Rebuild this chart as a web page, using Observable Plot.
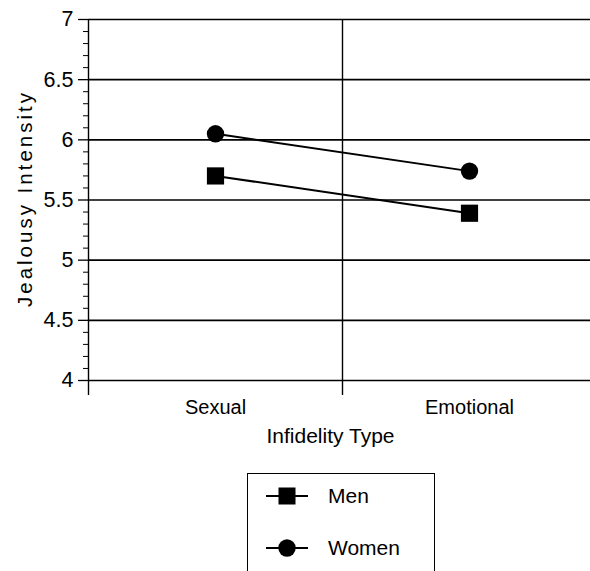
<!DOCTYPE html>
<html>
<head>
<meta charset="utf-8">
<script src="https://cdn.jsdelivr.net/npm/d3@7"></script>
<script src="https://cdn.jsdelivr.net/npm/@observablehq/plot@0.6"></script>
<style>
  html, body { margin: 0; padding: 0; background: #fff; }
  body { width: 590px; height: 571px; overflow: hidden; font-family: "Liberation Sans", Arial, sans-serif; }
  #legend { position: absolute; left: 247px; top: 473px; width: 188px; height: 110px; border: 1.5px solid #000; box-sizing: border-box; }
</style>
</head>
<body>
<div id="chart"></div>
<div id="legend"></div>
<script>
const categories = ["Sexual", "Emotional"];
const seriesNames = ["Men", "Women"];
const menValues = [5.70, 5.39];
const womenValues = [6.05, 5.74];
const yTicks = [4, 4.5, 5, 5.5, 6, 6.5, 7];
const yLabel = "Jealousy Intensity";
const xLabel = "Infidelity Type";

const data = [];
categories.forEach((c, i) => {
  data.push({series: "Men", cat: c, pos: i + 0.5, value: menValues[i]});
  data.push({series: "Women", cat: c, pos: i + 0.5, value: womenValues[i]});
});
const minorTicks = d3.range(40, 71).map(v => v / 10).filter(v => !yTicks.includes(v));
const boundaries = d3.range(0, categories.length + 1);

const plot = Plot.plot({
  width: 590,
  height: 465,
  marginLeft: 88,
  marginRight: 0,
  marginTop: 19,
  marginBottom: 85,
  style: {fontFamily: "Liberation Sans, Arial, sans-serif", fontSize: "20px", color: "#000", background: "#fff"},
  x: {type: "linear", domain: [0, categories.length], range: [88, 596]},
  y: {domain: [4, 7], range: [380, 19]},
  marks: [
    Plot.ruleY(yTicks, {stroke: "#000", strokeWidth: 1.6}),
    Plot.ruleX(boundaries, {y1: 4, y2: 7, stroke: "#000", strokeWidth: 1.4}),
    Plot.axisX(boundaries, {tickSize: 15, tickFormat: () => "", stroke: "#000", strokeWidth: 1.4, label: null}),
    Plot.axisX(categories.map((c, i) => i + 0.5), {tickSize: 0, tickPadding: 19, tickFormat: p => categories[Math.floor(p)], fontSize: 20, label: null}),
    Plot.axisY(yTicks, {tickSize: 10, tickPadding: 5, tickFormat: d => String(d), fontSize: 21.5, label: null, strokeWidth: 1.3}),
    Plot.axisY(minorTicks, {tickSize: 5, tickFormat: () => "", label: null, strokeWidth: 1}),
    Plot.text([yLabel], {frameAnchor: "left", dx: -63, rotate: -90, fontSize: 20.5, fill: "#000"}),
    Plot.text([xLabel], {frameAnchor: "bottom", dx: -9, dy: 62, fontSize: 21, fill: "#000"}),
    Plot.line(data, {x: "pos", y: "value", z: "series", stroke: "#000", strokeWidth: 2}),
    Plot.dot(data.filter(d => d.series === "Men"), {x: "pos", y: "value", symbol: "square", r: 9.7, fill: "#000", stroke: "none"}),
    Plot.dot(data.filter(d => d.series === "Women"), {x: "pos", y: "value", symbol: "circle", r: 8.7, fill: "#000", stroke: "none"})
  ]
});
document.getElementById("chart").appendChild(plot);
plot.querySelectorAll("text").forEach(t => {
  if (t.textContent === yLabel) {
    t.setAttribute("text-anchor", "start");
    t.setAttribute("x", "-107");
    t.setAttribute("textLength", "214");
    t.setAttribute("lengthAdjust", "spacing");
  }
});

// Legend
const lg = d3.select("#legend").append("svg").attr("width", 185).attr("height", 108)
  .style("font-family", "Liberation Sans, Arial, sans-serif");
const rows = [{name: seriesNames[0], sym: "square"}, {name: seriesNames[1], sym: "circle"}];
rows.forEach((r, i) => {
  const cy = 22 + i * 52;
  lg.append("line").attr("x1", 18).attr("x2", 60).attr("y1", cy).attr("y2", cy).attr("stroke", "#000").attr("stroke-width", 2);
  if (r.sym === "square") {
    lg.append("rect").attr("x", 39 - 8.5).attr("y", cy - 8.5).attr("width", 17).attr("height", 17).attr("fill", "#000");
  } else {
    lg.append("circle").attr("cx", 39).attr("cy", cy).attr("r", 8.7).attr("fill", "#000");
  }
  lg.append("text").attr("x", 80).attr("y", cy).attr("dy", "0.35em").attr("font-size", 21).attr("fill", "#000").text(r.name);
});
</script>
</body>
</html>
